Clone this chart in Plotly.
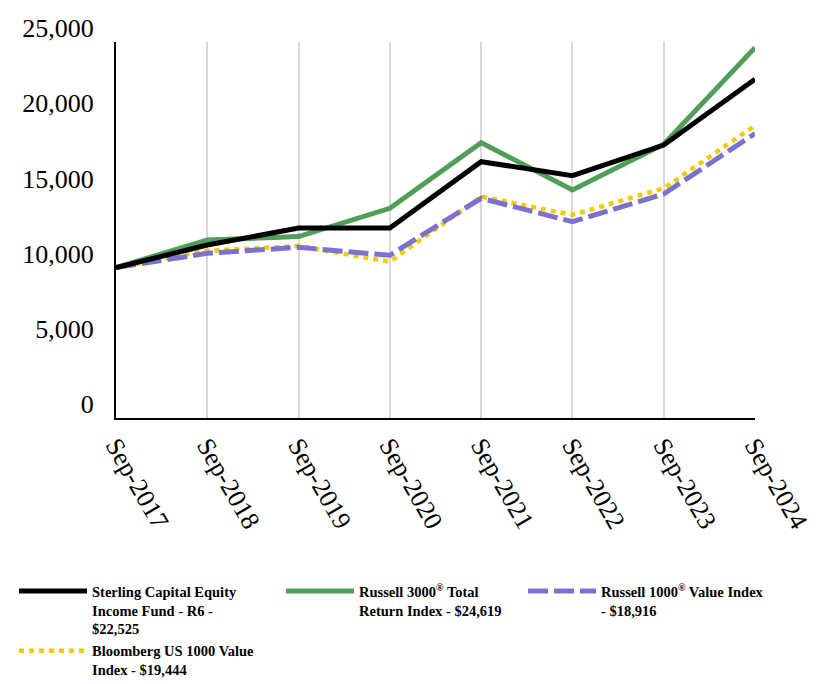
import plotly.graph_objects as go

categories = ["Sep-2017", "Sep-2018", "Sep-2019", "Sep-2020", "Sep-2021", "Sep-2022", "Sep-2023", "Sep-2024"]
sterling = [10000, 11500, 12630, 12630, 17040, 16110, 18150, 22525]
russell3000 = [10000, 11835, 12060, 13940, 18310, 15160, 18200, 24619]
russell1000v = [10000, 10950, 11350, 10820, 14610, 13050, 14890, 18916]
bloomberg1000v = [10000, 11120, 11440, 10390, 14720, 13500, 15270, 19444]
y_ticks = [0, 5000, 10000, 15000, 20000, 25000]
y_tick_labels = ["0", "5,000", "10,000", "15,000", "20,000", "25,000"]

names = {
    "sterling": "<b>Sterling Capital Equity<br>Income Fund - R6 -<br>$22,525</b>",
    "r3000": "<b>Russell 3000<sup>®</sup> Total<br>Return Index - $24,619</b>",
    "r1000v": "<b>Russell 1000<sup>®</sup> Value Index<br>- $18,916</b>",
    "bb": "<b>Bloomberg US 1000 Value<br>Index - $19,444</b>",
}

SERIF = "Liberation Serif"

fig = go.Figure()
fig.add_trace(go.Scatter(x=categories, y=bloomberg1000v, mode="lines", name=names["bb"],
                         legend="legend", legendrank=2,
                         line=dict(color="#F2CC00", width=4.5, dash="5px,5px")))
fig.add_trace(go.Scatter(x=categories, y=russell1000v, mode="lines", name=names["r1000v"],
                         legend="legend3",
                         line=dict(color="#7B72CF", width=5, dash="20px,6px")))
fig.add_trace(go.Scatter(x=categories, y=russell3000, mode="lines", name=names["r3000"],
                         legend="legend2",
                         line=dict(color="#509E5A", width=5)))
fig.add_trace(go.Scatter(x=categories, y=sterling, mode="lines", name=names["sterling"],
                         legend="legend", legendrank=1,
                         line=dict(color="#000000", width=5)))

legend_common = dict(
    orientation="v", y=-0.418, xanchor="left", yanchor="top",
    font=dict(family=SERIF, size=14.5, color="#000000"),
    valign="top", itemwidth=68, bgcolor="rgba(0,0,0,0)", borderwidth=0,
)

fig.update_layout(
    width=828, height=684,
    margin=dict(l=108, r=81, t=34, b=274, autoexpand=False),
    paper_bgcolor="white", plot_bgcolor="white",
    font=dict(family=SERIF, color="#000000"),
    showlegend=True,
    legend=dict(x=-0.1596, traceorder="normal", **legend_common),
    legend2=dict(x=0.2582, **legend_common),
    legend3=dict(x=0.6369, **legend_common),
    xaxis=dict(
        type="category", range=[0, len(categories) - 1],
        showgrid=True, gridcolor="#D9D9D9", gridwidth=1.5,
        showline=True, linecolor="#000000", linewidth=2,
        ticks="", tickangle=60, tickfont=dict(family=SERIF, size=26),
        zeroline=False, automargin=False,
    ),
    yaxis=dict(
        range=[0, 25000], tickvals=y_ticks, ticktext=y_tick_labels,
        showgrid=False, showline=True, linecolor="#000000", linewidth=2,
        ticks="", tickfont=dict(family=SERIF, size=26), ticklabelshift=-14, ticklabelstandoff=15,
        zeroline=False, automargin=False,
    ),
)

fig.write_html("out.html")
